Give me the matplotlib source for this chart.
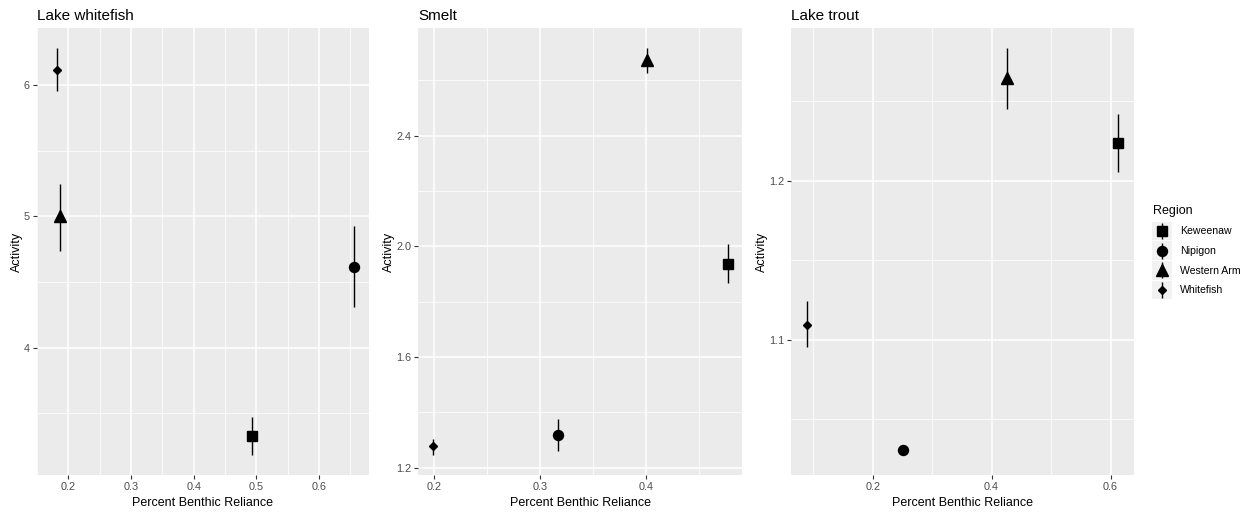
import numpy as np
import matplotlib
matplotlib.use("Agg")
import matplotlib.pyplot as plt

plt.rcParams['font.family'] = ['Liberation Sans', 'DejaVu Sans']

# ---------------- data ----------------
regions = ["Keweenaw", "Nipigon", "Western Arm", "Whitefish"]
markers = ["s", "o", "^", "D"]
msizes = [7.0, 7.2, 8.0, 4.5]

panel_titles = ["Lake whitefish", "Smelt", "Lake trout"]

whitefish_x = [0.493, 0.656, 0.186, 0.182]
whitefish_y = [3.33, 4.614, 5.0, 6.114]
whitefish_lo = [3.185, 4.31, 4.74, 5.957]
whitefish_hi = [3.47, 4.93, 5.25, 6.28]

smelt_x = [0.477, 0.317, 0.4006, 0.199]
smelt_y = [1.937, 1.317, 2.673, 1.277]
smelt_lo = [1.868, 1.259, 2.627, 1.247]
smelt_hi = [2.007, 1.377, 2.715, 1.304]

trout_x = [0.6128, 0.2506, 0.426, 0.0888]
trout_y = [1.2236, 1.0305, 1.2649, 1.109]
trout_lo = [1.2052, 1.0275, 1.2455, 1.0953]
trout_hi = [1.2421, 1.0335, 1.2834, 1.124]

x_major = [[0.2, 0.3, 0.4, 0.5, 0.6], [0.2, 0.3, 0.4], [0.2, 0.4, 0.6]]
x_minor = [[0.15, 0.25, 0.35, 0.45, 0.55, 0.65], [0.25, 0.35, 0.45], [0.1, 0.3, 0.5]]
y_major = [[4, 5, 6], [1.2, 1.6, 2.0, 2.4], [1.1, 1.2]]
y_minor = [[3.5, 4.5, 5.5], [1.4, 1.8, 2.2, 2.6], [1.05, 1.15, 1.25]]

panels = [
    (whitefish_x, whitefish_y, whitefish_lo, whitefish_hi),
    (smelt_x, smelt_y, smelt_lo, smelt_hi),
    (trout_x, trout_y, trout_lo, trout_hi),
]

# ---------------- layout ----------------
W, H = 1260, 516
fig = plt.figure(figsize=(W / 100, H / 100), dpi=100)

boxes_px = [(37, 28, 369, 475), (418.3, 28, 742.3, 475), (791, 28, 1133.7, 475)]

BG = "#EBEBEB"
tick_fmt = ["{:.1f}", "{:.1f}", "{:.1f}"]
ytick_fmt = ["{:.0f}", "{:.1f}", "{:.1f}"]

for i, ((xs, ys, lo, hi), (l, t, r, b)) in enumerate(zip(panels, boxes_px)):
    ax = fig.add_axes([l / W, (H - b) / H, (r - l) / W, (b - t) / H])
    ax.set_facecolor(BG)
    for s in ax.spines.values():
        s.set_visible(False)

    # ggplot-like 5% expansion
    xmin, xmax = min(xs), max(xs)
    ymin, ymax = min(lo), max(hi)
    dx, dy = (xmax - xmin) * 0.05, (ymax - ymin) * 0.05
    ax.set_xlim(xmin - dx, xmax + dx)
    ax.set_ylim(ymin - dy, ymax + dy)

    ax.set_xticks(x_major[i])
    ax.set_xticks(x_minor[i], minor=True)
    ax.set_yticks(y_major[i])
    ax.set_yticks(y_minor[i], minor=True)
    ax.set_xticklabels([tick_fmt[i].format(v) for v in x_major[i]])
    ax.set_yticklabels([ytick_fmt[i].format(v) for v in y_major[i]])

    ax.grid(which="major", color="white", linewidth=1.1)
    ax.grid(which="minor", color="white", linewidth=0.55)
    ax.set_axisbelow(True)
    ax.tick_params(which="major", length=2.6, width=0.8, color="#333333",
                   labelsize=7.8, labelcolor="#4D4D4D", pad=2.5)
    ax.tick_params(which="minor", length=0)

    for j in range(len(regions)):
        ax.vlines(xs[j], lo[j], hi[j], color="black", linewidth=1.0, zorder=3)
        ax.plot([xs[j]], [ys[j]], marker=markers[j], markersize=msizes[j],
                color="black", linestyle="none", zorder=4)

    ax.set_xlabel("Percent Benthic Reliance", fontsize=9, labelpad=3.5)
    ax.set_ylabel("Activity", fontsize=9, labelpad=0.5)
    ax.set_title(panel_titles[i], loc="left", fontsize=11, pad=6)

# ---------------- legend ----------------
fig.text(1152.7 / W, 1 - 211 / H, "Region", fontsize=9, va="center", ha="left")
lax = fig.add_axes([1152 / W, (H - 300) / H, 20 / W, 79 / H])
lax.set_xlim(0, 1)
lax.set_ylim(len(regions), 0)
lax.axis("off")
for j, reg in enumerate(regions):
    lax.add_patch(plt.Rectangle((0, j + 0.03), 1, 0.94, facecolor="#F2F2F2",
                                edgecolor="none"))
    lax.vlines(0.5, j + 0.1, j + 0.9, color="black", linewidth=1.0)
    lax.plot([0.5], [j + 0.5], marker=markers[j], markersize=msizes[j],
             color="black", linestyle="none")
    fig.text(1180 / W, 1 - (231.5 + 19.5 * j) / H, reg, fontsize=7.6,
             va="center", ha="left", color="black")

fig.savefig("out.png", dpi=100)
